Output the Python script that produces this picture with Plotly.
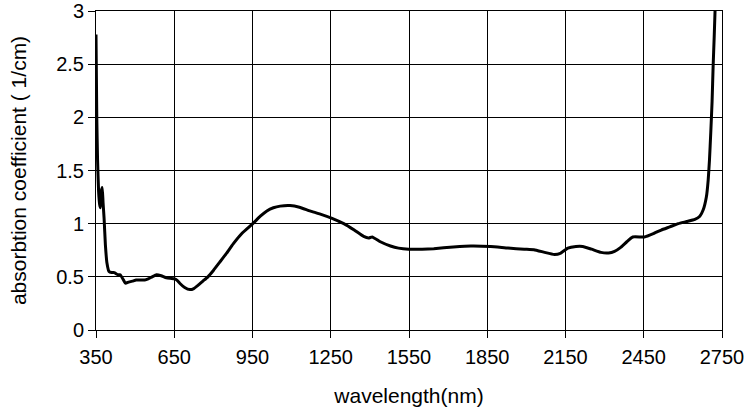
import plotly.graph_objects as go

wavelength = [350, 353, 356, 360, 364, 367, 370, 374, 377, 381, 386, 392, 400, 410, 420,
              434, 443, 453, 463, 475, 490, 504, 520, 537, 550, 565, 582, 600, 620, 640,
              652, 662, 671, 690, 710, 725, 741, 760, 779, 800, 825, 850, 876, 910, 951,
              980, 1005, 1030, 1056, 1094, 1130, 1170, 1210, 1255, 1300, 1340, 1376, 1395,
              1409, 1440, 1479, 1510, 1549, 1600, 1645, 1720, 1787, 1863, 1930, 1992, 2029,
              2070, 2107, 2130, 2159, 2190, 2216, 2250, 2286, 2315, 2338, 2363, 2385, 2408,
              2453, 2490, 2517, 2550, 2582, 2615, 2646, 2665, 2678, 2690, 2697, 2702, 2707,
              2712, 2716, 2720, 2724]
absorption = [2.78, 2.0, 1.6, 1.3, 1.18, 1.15, 1.3, 1.34, 1.2, 1.05, 0.8, 0.63, 0.55, 0.54, 0.54,
              0.52, 0.52, 0.48, 0.44, 0.45, 0.46, 0.47, 0.47, 0.47, 0.48, 0.50, 0.52, 0.51, 0.49, 0.485,
              0.48, 0.465, 0.44, 0.40, 0.38, 0.39, 0.42, 0.46, 0.50, 0.56, 0.64, 0.72, 0.81, 0.91, 1.0,
              1.07, 1.12, 1.15, 1.165, 1.17, 1.155, 1.12, 1.09, 1.05, 1.0, 0.94, 0.88, 0.865,
              0.875, 0.83, 0.79, 0.77, 0.76, 0.76, 0.765, 0.78, 0.79, 0.785, 0.77, 0.76, 0.755,
              0.73, 0.71, 0.72, 0.77, 0.785, 0.785, 0.76, 0.73, 0.725, 0.74, 0.78, 0.83, 0.875,
              0.875, 0.91, 0.94, 0.97, 1.0, 1.02, 1.04, 1.07, 1.13, 1.25, 1.41, 1.6, 1.86,
              2.15, 2.48, 2.75, 3.05]

fig = go.Figure()
fig.add_trace(go.Scatter(
    x=wavelength, y=absorption, mode="lines",
    line=dict(color="black", width=3, shape="spline", smoothing=0.4),
    showlegend=False, hoverinfo="x+y",
))

font = "Liberation Sans, Arial, sans-serif"
fig.update_layout(
    width=748, height=410,
    margin=dict(l=96, r=26, t=11, b=80),
    paper_bgcolor="white", plot_bgcolor="white",
    font=dict(family=font, size=20, color="black"),
)
fig.update_xaxes(
    range=[350, 2750], tick0=350, dtick=300,
    showgrid=True, gridcolor="black", gridwidth=1,
    showline=True, linecolor="black", linewidth=1, mirror=True,
    ticks="outside", ticklen=7, tickcolor="black", ticklabelstandoff=2,
    zeroline=False, automargin=False,
    title=dict(text="wavelength(nm)", standoff=21, font=dict(size=21)),
)
fig.update_yaxes(
    range=[0, 3], tick0=0, dtick=0.5,
    showgrid=True, gridcolor="black", gridwidth=1,
    showline=True, linecolor="black", linewidth=1, mirror=True,
    ticks="outside", ticklen=7, tickcolor="black",
    zeroline=False, automargin=False,
    title=dict(text="absorbtion coefficient ( 1/cm)", standoff=23, font=dict(size=21)),
)

fig.write_html("out.html")
